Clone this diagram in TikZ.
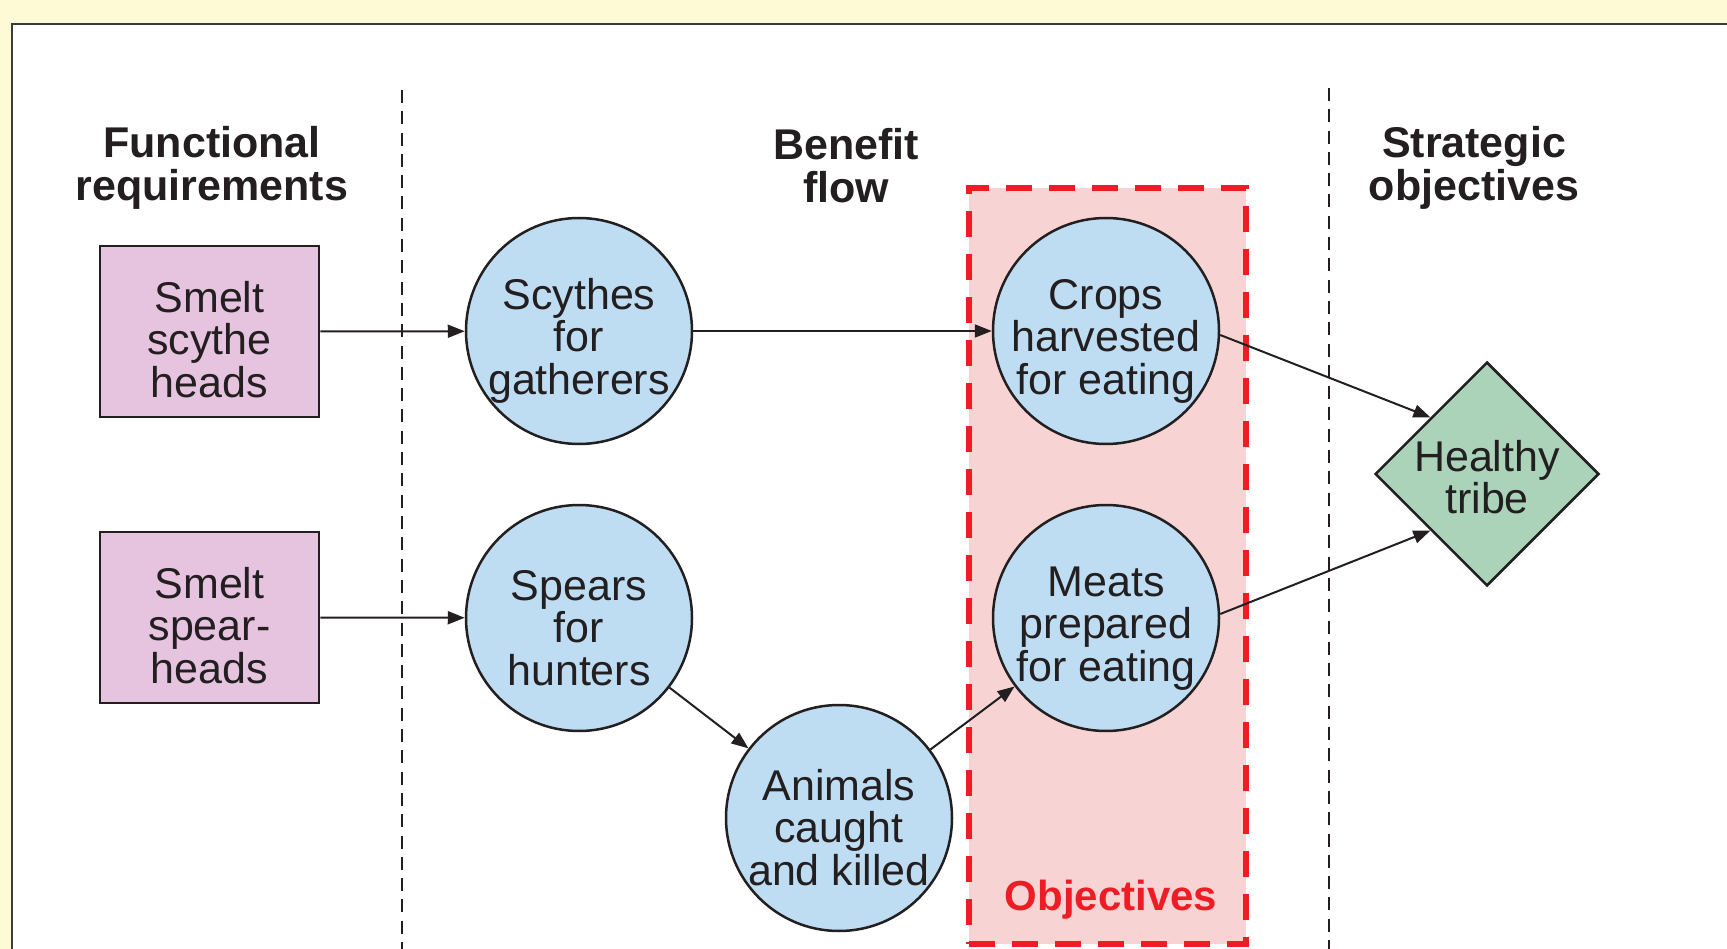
\documentclass[tikz,border=0pt]{standalone}
\usepackage{fontspec}
\setmainfont{Liberation Sans}
\usetikzlibrary{shapes.geometric,arrows.meta}
\definecolor{bgyellow}{HTML}{FFFAD6}
\definecolor{panelgray}{HTML}{3C3A3A}
\definecolor{ink}{HTML}{231F20}
\definecolor{rectpink}{HTML}{E6C4DF}
\definecolor{circblue}{HTML}{BEDDF2}
\definecolor{diamgreen}{HTML}{ABD3BA}
\definecolor{objred}{HTML}{EE1D25}
\definecolor{objpink}{HTML}{F7D4D3}
\newcommand{\firstlift}[1]{\rule{0pt}{#1}}
\tikzset{
  bodytext/.style={font=\fontsize{43}{42.5}\selectfont, text=ink, align=center},
  reqbox/.style={rectangle, draw=ink, line width=2.5pt, fill=rectpink, minimum width=219pt, minimum height=171pt, inner sep=0pt, bodytext},
  benefit/.style={circle, draw=ink, line width=2.5pt, fill=circblue, minimum size=226pt, inner sep=-12pt, bodytext},
  goal/.style={diamond, draw=ink, line width=2.5pt, fill=diamgreen, minimum width=224pt, minimum height=224pt, inner sep=-5pt, bodytext},
  header/.style={font=\bfseries\fontsize{43}{43}\selectfont, text=ink, align=center},
  flow/.style={draw=ink, line width=2pt, -{Triangle[length=17pt,width=13pt]}},
  divider/.style={draw=ink, line width=2.5pt, dash pattern=on 13pt off 8.3pt},
  objframe/.style={draw=objred, line width=6pt, dash pattern=on 26pt off 17pt, fill=objpink},
}
\begin{document}
\begin{tikzpicture}[x=1pt,y=-1pt]
  \useasboundingbox (0,0) rectangle (1727,949);
  \clip (0,0) rectangle (1727,949);
  \fill[bgyellow] (0,0) rectangle (1727,949);
  \draw[line width=2pt, draw=panelgray, fill=white] (12,24) rectangle (1760,980);

  \draw[divider] (402,90) -- (402,960);
  \draw[divider] (1329,88) -- (1329,960);

  \node[objframe, minimum width=277pt, minimum height=756pt, inner sep=0pt] (obj) at (1107.5,566) {};
  \node[font=\bfseries\fontsize{42}{42}\selectfont, text=objred, anchor=base] (objlabel) at (1111,910) {Objectives};

  \node[header] (hfun) at (212,168) {Functional\\requirements};
  \node[header] (hben) at (846,166) {Benefit\\flow};
  \node[header] (hstr) at (1474,167.5) {Strategic\\objectives};

  \node[reqbox] (r1) at (209.5,331.5) {\firstlift{47pt}Smelt\\scythe\\heads};
  \node[reqbox] (r2) at (209.5,617.5) {\firstlift{47pt}Smelt\\spear-\\heads};
  \node[benefit] (scy) at (579,331) {\firstlift{50pt}Scythes\\for\\gatherers};
  \node[benefit] (spe) at (579,618) {\firstlift{50pt}Spears\\for\\hunters};
  \node[benefit] (ani) at (839,818) {\firstlift{50pt}Animals\\caught\\and killed};
  \node[benefit] (cro) at (1106,331) {\firstlift{50pt}Crops\\harvested\\for eating};
  \node[benefit] (mea) at (1106,618) {\firstlift{50pt}Meats\\prepared\\for eating};
  \node[goal] (tri) at (1487,474) {\firstlift{37pt}Healthy\\tribe};

  \draw[flow] (r1.east) -- (scy);
  \draw[flow] (r2.east) -- (spe);
  \draw[flow] (scy) -- (cro);
  \draw[flow] (spe) -- (ani);
  \draw[flow] (ani) -- (mea);
  \draw[flow] (cro.-2) -- (tri.north west);
  \draw[flow] (mea.2) -- (tri.south west);
\end{tikzpicture}
\end{document}
